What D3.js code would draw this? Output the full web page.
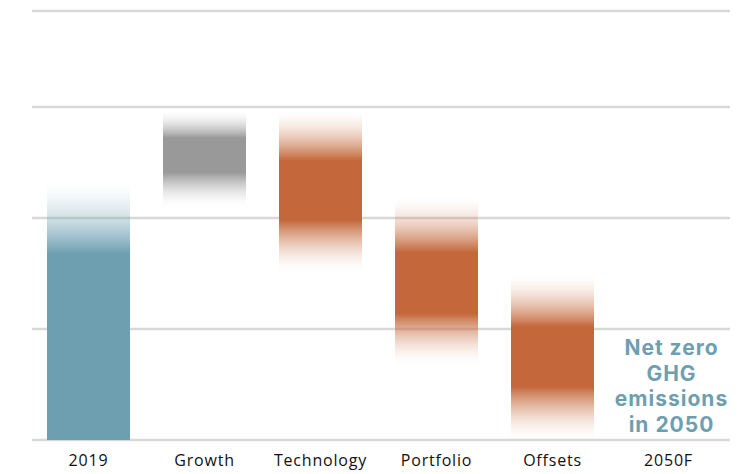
<!DOCTYPE html>
<html>
<head>
<meta charset="utf-8">
<script src="https://cdn.jsdelivr.net/npm/d3@7"></script>
<style>
  html, body { margin: 0; padding: 0; background: #ffffff; }
  svg { display: block; }
</style>
</head>
<body>
<svg id="chart" width="741" height="474"></svg>
<script>
// ---- data ----
const categories = ["2019", "Growth", "Technology", "Portfolio", "Offsets", "2050F"];
const kinds      = ["base", "increase", "decrease", "decrease", "decrease", "target"];
// solid (certain) part of each bar, in index units
const solidLow   = [0,     2.41, 1.98, 1.14, 0.48, null];
const solidHigh  = [1.68,  2.72, 2.52, 1.69, 1.02, null];
// faded (uncertain) extent of each bar
const fadeLow    = [0,     2.10, 1.51, 0.68, 0.00, null];
const fadeHigh   = [2.34,  2.97, 2.97, 2.19, 1.49, null];
const gridValues = [0, 1, 2, 3, 3.865];
const noteLines  = ["Net zero", "GHG", "emissions", "in 2050"];

const colors = { base: "#6e9fb1", increase: "#999999", decrease: "#c4683b" };

// ---- layout ----
const svg = d3.select("#chart");
const x = d3.scaleBand()
  .domain(categories)
  .range([30.5, 726.5])
  .paddingInner(0.2845)
  .paddingOuter(0.1422);
const y = d3.scaleLinear().domain([0, 1]).range([440, 329]);

// gridlines
svg.append("g").selectAll("line")
  .data(gridValues)
  .join("line")
  .attr("x1", 32).attr("x2", 730)
  .attr("y1", d => y(d)).attr("y2", d => y(d))
  .attr("stroke", "#d8d8d8")
  .attr("stroke-width", 2.4);

// gradients
const defs = svg.append("defs");
const bars = categories.map((c, i) => ({
  cat: c, kind: kinds[i],
  sLo: solidLow[i], sHi: solidHigh[i], fLo: fadeLow[i], fHi: fadeHigh[i]
})).filter(d => d.sLo !== null);

const ease = t => Math.pow(t, 1.7);
bars.forEach((d, i) => {
  const top = y(d.fHi), bot = y(d.fLo), h = bot - top;
  const oTop = (y(d.sHi) - top) / h;
  const oBot = (y(d.sLo) - top) / h;
  const g = defs.append("linearGradient")
    .attr("id", "grad" + i)
    .attr("x1", 0).attr("y1", 0).attr("x2", 0).attr("y2", 1);
  const col = colors[d.kind];
  const stops = [];
  const n = 10;
  for (let k = 0; k <= n; k++) {
    const t = k / n;
    stops.push({ o: oTop * t, a: ease(t) });
  }
  for (let k = 0; k <= n; k++) {
    const t = k / n;
    if (oBot >= 0.999) { stops.push({ o: 1, a: 1 }); break; }
    stops.push({ o: oBot + (1 - oBot) * t, a: ease(1 - t) });
  }
  g.selectAll("stop").data(stops).join("stop")
    .attr("offset", s => s.o)
    .attr("stop-color", col)
    .attr("stop-opacity", s => s.a);
  d.gid = "grad" + i;
});

svg.append("g").selectAll("rect")
  .data(bars)
  .join("rect")
  .attr("x", d => x(d.cat))
  .attr("width", x.bandwidth())
  .attr("y", d => y(d.fHi))
  .attr("height", d => y(d.fLo) - y(d.fHi))
  .attr("fill", d => `url(#${d.gid})`);

// category labels
svg.append("g").selectAll("text")
  .data(categories)
  .join("text")
  .attr("x", d => x(d) + x.bandwidth() / 2)
  .attr("y", 466)
  .attr("text-anchor", "middle")
  .attr("font-family", "'Open Sans', sans-serif")
  .attr("font-size", 16)
  .attr("letter-spacing", "0.8px")
  .attr("fill", "#111111")
  .text(d => d);

// annotation (one multi-line text block)
const noteX = x("2050F") + x.bandwidth() / 2 + 3;
const note = svg.append("text")
  .attr("x", noteX)
  .attr("y", 355)
  .attr("text-anchor", "middle")
  .attr("font-family", "Inter, sans-serif")
  .attr("font-weight", 700)
  .attr("font-size", 21)
  .attr("letter-spacing", "1px")
  .attr("fill", "#6e9fb1");
note.selectAll("tspan")
  .data(noteLines)
  .join("tspan")
  .attr("x", noteX)
  .attr("dy", (d, i) => i === 0 ? 0 : 25.7)
  .text(d => d);
</script>
</body>
</html>
